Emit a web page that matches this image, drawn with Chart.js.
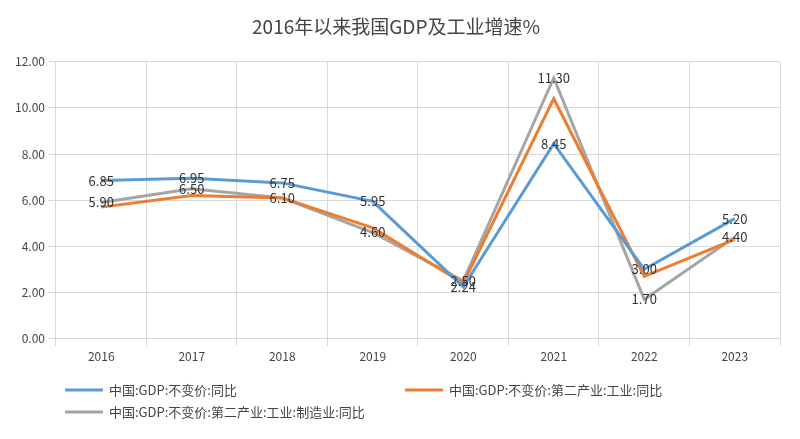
<!DOCTYPE html>
<html>
<head>
<meta charset="utf-8">
<script src="https://cdn.jsdelivr.net/npm/chart.js@4"></script>
<style>
  body { margin: 0; background: #fff; }
  #wrap { width: 800px; height: 439px; }
</style>
</head>
<body>
<div id="wrap"><canvas id="chart"></canvas></div>
<script>
// Data
const years = ['2016', '2017', '2018', '2019', '2020', '2021', '2022', '2023'];
const gdp = [6.85, 6.95, 6.75, 5.95, 2.24, 8.45, 3.00, 5.20];
const industry = [5.7, 6.2, 6.1, 4.8, 2.4, 10.4, 2.7, 4.3];
const manufacturing = [5.90, 6.50, 6.10, 4.60, 2.50, 11.30, 1.70, 4.40];
const yTicks = [0, 2, 4, 6, 8, 10, 12];

const fontFamily = '"Noto Sans CJK SC", sans-serif';
const font = { family: fontFamily, size: 12 };

// Value labels for blue and gray series
const valueLabels = {
    id: 'valueLabels',
    afterDatasetsDraw(chart) {
        const ctx = chart.ctx;
        ctx.save();
        ctx.font = '13px ' + fontFamily;
        ctx.fillStyle = '#333';
        ctx.textAlign = 'center';
        ctx.textBaseline = 'middle';
        [0, 2].forEach(i => {
            chart.getDatasetMeta(i).data.forEach((pt, j) => {
                const v = chart.data.datasets[i].data[j];
                ctx.fillText(v.toFixed(2), pt.x, pt.y);
            });
        });
        ctx.restore();
    }
};

// Legend laid out like the original: two items on row one, one below
const bottomLegend = {
    id: 'bottomLegend',
    afterDraw(chart) {
        const ctx = chart.ctx;
        const spots = [[65, 390], [405, 390], [65, 412]];
        ctx.save();
        ctx.font = '13px ' + fontFamily;
        ctx.textBaseline = 'middle';
        chart.data.datasets.forEach((ds, i) => {
            const [x, y] = spots[i];
            ctx.strokeStyle = ds.borderColor;
            ctx.lineWidth = 3;
            ctx.beginPath();
            ctx.moveTo(x, y);
            ctx.lineTo(x + 38, y);
            ctx.stroke();
            ctx.fillStyle = '#444';
            ctx.fillText(ds.label, x + 44, y);
        });
        ctx.restore();
    }
};

new Chart(document.getElementById('chart'), {
    type: 'line',
    data: {
        labels: years,
        datasets: [
            { label: '中国:GDP:不变价:同比', data: gdp, borderColor: '#5b9bd5', borderWidth: 3, pointRadius: 0, tension: 0 },
            { label: '中国:GDP:不变价:第二产业:工业:同比', data: industry, borderColor: '#ed7d31', borderWidth: 3, pointRadius: 0, tension: 0 },
            { label: '中国:GDP:不变价:第二产业:工业:制造业:同比', data: manufacturing, borderColor: '#a5a5a5', borderWidth: 3, pointRadius: 0, tension: 0 }
        ]
    },
    options: {
        responsive: true,
        maintainAspectRatio: false,
        animation: false,
        layout: { padding: { left: 12, right: 20, top: 5, bottom: 72 } },
        plugins: {
            title: {
                display: true,
                text: '2016年以来我国GDP及工业增速%',
                color: '#444',
                font: { family: fontFamily, size: 19, weight: 'normal' },
                padding: { top: 10, bottom: 24 }
            },
            legend: { display: false },
            tooltip: { enabled: false }
        },
        scales: {
            y: {
                min: 0,
                max: 12,
                afterBuildTicks: axis => { axis.ticks = yTicks.map(v => ({ value: v })); },
                ticks: { color: '#444', font: font, callback: v => Number(v).toFixed(2) },
                grid: { color: '#d9d9d9' },
                border: { display: false }
            },
            x: {
                offset: true,
                ticks: { color: '#444', font: font },
                grid: { color: '#d9d9d9', offset: true },
                border: { color: '#d9d9d9' }
            }
        }
    },
    plugins: [valueLabels, bottomLegend]
});
</script>
</body>
</html>
